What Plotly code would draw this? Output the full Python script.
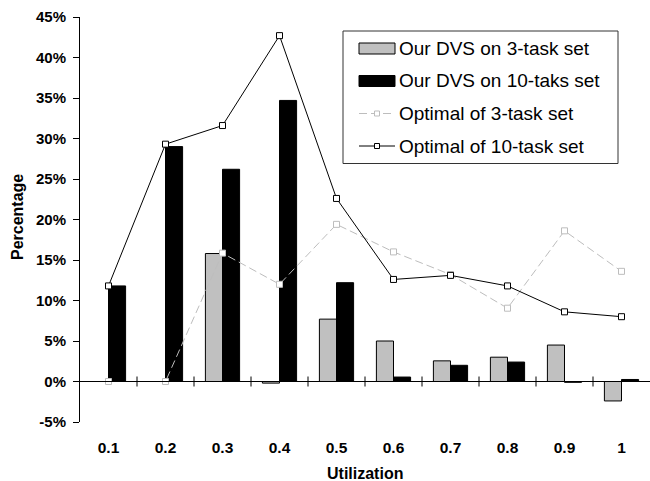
import plotly.graph_objects as go

# Utilization levels on the x axis
utilization = ["0.1", "0.2", "0.3", "0.4", "0.5", "0.6", "0.7", "0.8", "0.9", "1"]

# Energy saving (%) per utilization level
dvs_3task = [0.0, 0.0, 15.8, -0.2, 7.7, 5.0, 2.55, 3.0, 4.5, -2.4]
dvs_10task = [11.8, 29.0, 26.2, 34.7, 12.2, 0.55, 2.0, 2.4, -0.1, 0.25]
opt_3task = [0.0, 0.0, 15.85, 12.0, 19.4, 16.0, 13.2, 9.05, 18.6, 13.6]
opt_10task = [11.8, 29.3, 31.6, 42.7, 22.6, 12.6, 13.1, 11.8, 8.6, 8.0]

names = ["Our DVS on 3-task set", "Our DVS on 10-taks set",
         "Optimal of 3-task set", "Optimal of 10-task set"]

y_ticks = [-5, 0, 5, 10, 15, 20, 25, 30, 35, 40, 45]

FONT = "Arial, Liberation Sans, sans-serif"
GRAY = "#c0c0c0"
LINE_GRAY = "#bdbdbd"

W, H = 650, 481
L, R, T, B = 80, 0, 17, 59
PW, PH = W - L - R, H - T - B
PX_PER_UNIT = PH / (y_ticks[-1] - y_ticks[0])


def fx(p):
    return (p - L) / PW


def fy(p):
    return (H - B - p) / PH


fig = go.Figure()

fig.add_trace(go.Bar(
    x=utilization, y=dvs_3task, name=names[0],
    marker=dict(color=GRAY, line=dict(color="black", width=1)),
))
fig.add_trace(go.Bar(
    x=utilization, y=dvs_10task, name=names[1],
    marker=dict(color="black", line=dict(color="black", width=1)),
))
fig.add_trace(go.Scatter(
    x=utilization, y=opt_3task, name=names[2], mode="lines+markers",
    line=dict(color=LINE_GRAY, width=1, dash="8px,4px"),
    marker=dict(symbol="square", size=6, color="white",
                line=dict(color=LINE_GRAY, width=1)),
))
fig.add_trace(go.Scatter(
    x=utilization, y=opt_10task, name=names[3], mode="lines+markers",
    line=dict(color="black", width=1),
    marker=dict(symbol="square", size=6, color="white",
                line=dict(color="black", width=1)),
))

shapes = []
annotations = []

# Horizontal axis at 0%: a 1px black strip across the plot
strip = 0.55 / PX_PER_UNIT
shapes.append(dict(type="rect", xref="x domain", yref="y",
                   x0=0, x1=1, y0=-strip, y1=strip,
                   fillcolor="black", line=dict(width=0), layer="above"))

# Category-boundary tick marks crossing the zero line
n = len(utilization)
half = 5 / PX_PER_UNIT
for i in range(n - 1):
    shapes.append(dict(type="line", xref="x", yref="y",
                       x0=i + 0.5, x1=i + 0.5, y0=-half, y1=half,
                       line=dict(color="black", width=1), layer="above"))

# Legend drawn as a framed box with swatches
lx0, lx1, ly0, ly1 = 343, 618, 31, 163.5
shapes.append(dict(type="rect", xref="paper", yref="paper",
                   x0=fx(lx0), x1=fx(lx1), y0=fy(ly1), y1=fy(ly0),
                   line=dict(color="#333333", width=1), fillcolor="white"))
row_y = [48.5 + 32.5 * i for i in range(4)]
sx0, sx1 = 359, 395
bar_fill = [GRAY, "black"]
for i in range(2):
    cy = row_y[i]
    shapes.append(dict(type="rect", xref="paper", yref="paper",
                       x0=fx(sx0), x1=fx(sx1), y0=fy(cy + 5.5), y1=fy(cy - 5.5),
                       line=dict(color="black", width=1), fillcolor=bar_fill[i]))
line_style = [(LINE_GRAY, "8px,4px"), ("black", "solid")]
for j in range(2):
    cy = row_y[2 + j]
    col, dash = line_style[j]
    shapes.append(dict(type="line", xref="paper", yref="paper",
                       x0=fx(sx0), x1=fx(sx1), y0=fy(cy), y1=fy(cy),
                       line=dict(color=col, width=1, dash=dash)))
    mx = (sx0 + sx1) / 2
    shapes.append(dict(type="rect", xref="paper", yref="paper",
                       x0=fx(mx - 2.5), x1=fx(mx + 2.5), y0=fy(cy + 2.5), y1=fy(cy - 2.5),
                       line=dict(color=col, width=1), fillcolor="white"))
for i, nm in enumerate(names):
    annotations.append(dict(text=nm, xref="paper", yref="paper",
                            x=fx(397), y=fy(row_y[i]), xanchor="left", yanchor="middle",
                            showarrow=False, font=dict(family=FONT, size=19, color="black")))

# Axis titles
annotations.append(dict(text="<b>Utilization</b>", xref="paper", yref="paper",
                        x=fx(365), y=fy(473), xanchor="center", yanchor="middle",
                        showarrow=False, font=dict(family=FONT, size=16, color="black")))
annotations.append(dict(text="<b>Percentage</b>", xref="paper", yref="paper",
                        x=fx(17), y=fy(217), xanchor="center", yanchor="middle",
                        textangle=-90, showarrow=False,
                        font=dict(family=FONT, size=16, color="black")))

fig.update_layout(
    width=W, height=H,
    margin=dict(l=L, r=R, t=T, b=B),
    paper_bgcolor="white", plot_bgcolor="white",
    showlegend=False,
    barmode="group", bargap=0.4, bargroupgap=0,
    font=dict(family=FONT, color="black"),
    shapes=shapes, annotations=annotations,
    xaxis=dict(
        type="category", range=[-0.5, n - 0.5],
        showline=False, ticks="", showgrid=False, zeroline=False,
        tickfont=dict(family=FONT, size=15.5, color="black", weight="bold"),
        ticklabelstandoff=14,
    ),
    yaxis=dict(
        range=[y_ticks[0], y_ticks[-1]], tickvals=y_ticks,
        ticktext=[f"{v}%" for v in y_ticks],
        showline=True, linecolor="black", linewidth=1,
        ticks="outside", ticklen=6, tickcolor="black",
        showgrid=False, zeroline=False,
        tickfont=dict(family=FONT, size=15, color="black", weight="bold"),
        ticklabelstandoff=4,
    ),
)

fig.write_html("out.html")
